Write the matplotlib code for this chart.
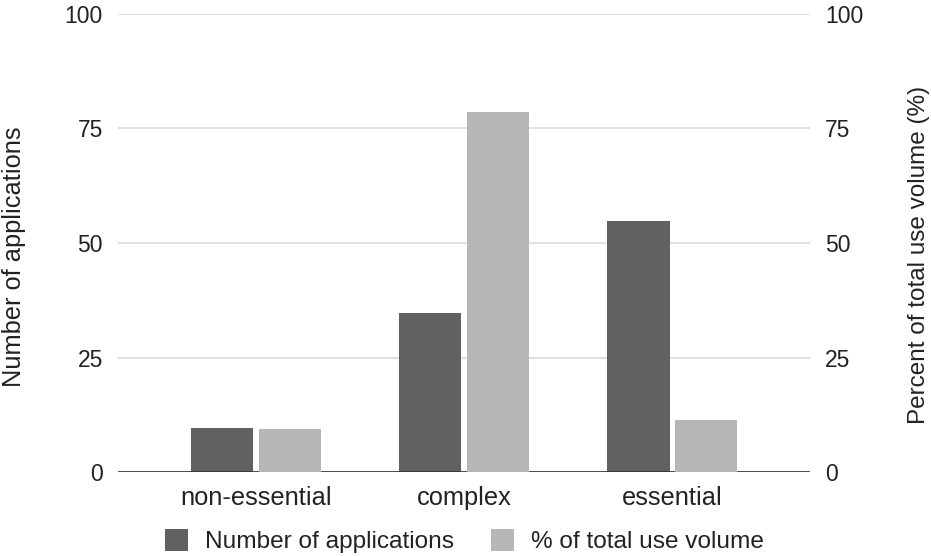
import matplotlib.pyplot as plt
import numpy as np

plt.rcParams['font.family'] = ['Liberation Sans', 'DejaVu Sans']

categories = ['non-essential', 'complex', 'essential']
num_applications = [9.6, 34.7, 54.9]
pct_use_volume = [9.5, 78.5, 11.4]

dark = '#616161'
light = '#b7b7b7'
text_col = '#222222'

fig = plt.figure(figsize=(9.31, 5.56), dpi=100)
ax = fig.add_axes([0.127, 0.151, 0.743, 0.824])
ax2 = ax.twinx()

x = np.arange(len(categories))
w = 0.298
off = 0.163
ax.bar(x - off, num_applications, w, color=dark, label='Number of applications', zorder=3)
ax2.bar(x + off, pct_use_volume, w, color=light, label='% of total use volume', zorder=3)

for a in (ax, ax2):
    a.set_ylim(0, 100)
    a.set_yticks([0, 25, 50, 75, 100])
    a.set_xlim(-0.66, 2.66)
    for s in a.spines.values():
        s.set_visible(False)
    a.tick_params(axis='y', length=0, labelsize=16.5, labelcolor=text_col, pad=11)

ax.yaxis.grid(True, color='#dcdcdc', linewidth=1.2, zorder=0)
ax.set_axisbelow(True)
ax.axhline(0, color='#333333', linewidth=1.2, zorder=4)
ax.set_xticks(x)
ax.set_xticklabels(categories)
ax.tick_params(axis='x', length=0, labelsize=18.3, labelcolor=text_col, pad=10)

ax.set_ylabel('Number of applications', fontsize=18.3, color=text_col, va='center')
ax2.set_ylabel('Percent of total use volume (%)', fontsize=17.5, color=text_col, va='center')
ax.yaxis.set_label_coords(-0.150, 0.47)
ax2.yaxis.set_label_coords(1.158, 0.474)

h1, l1 = ax.get_legend_handles_labels()
h2, l2 = ax2.get_legend_handles_labels()
fig.legend(h1 + h2, l1 + l2, loc='center', bbox_to_anchor=(0.499, 0.027), ncol=2,
           frameon=False, fontsize=17.6, handlelength=0.94, handleheight=1.0,
           columnspacing=1.5, handletextpad=0.7, labelcolor=text_col)

plt.savefig('out.png')
